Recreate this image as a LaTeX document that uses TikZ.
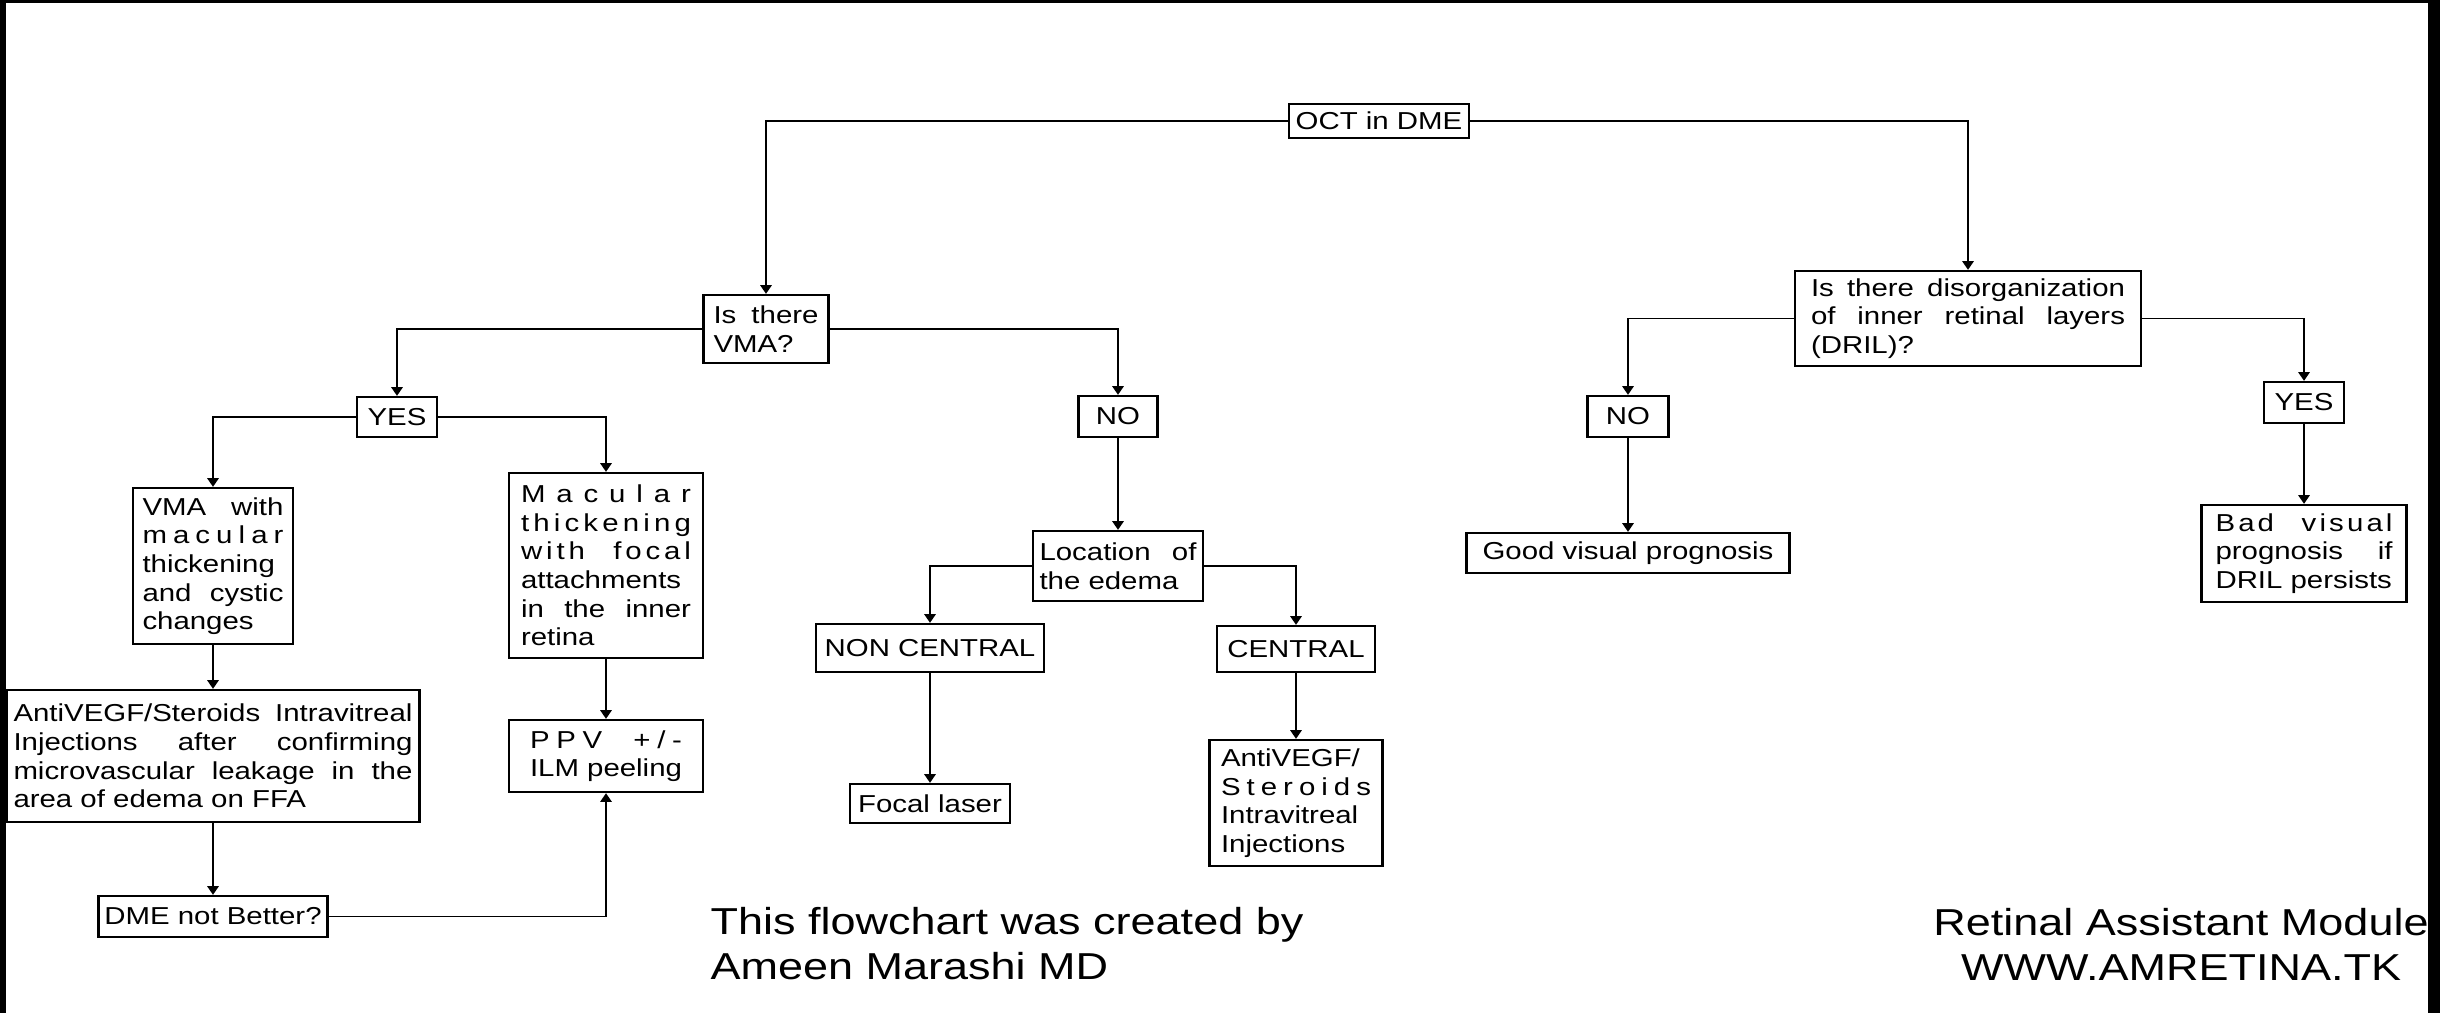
\documentclass[tikz,border=0pt]{standalone}
\usepackage{fontspec}
\setmainfont{Liberation Sans}[FakeStretch=1.2]
\usetikzlibrary{arrows.meta}

% a justified line, and a letter spaced one
\newcommand{\spreadline}[1]{\makebox[\hsize][s]{\spaceskip=0pt\relax #1}\\}
\newcommand{\spreadletters}[1]{\makebox[\hsize][s]{\spaceskip=0pt plus 1fil\relax #1}\\}

\begin{document}
\begin{tikzpicture}[x=0.3pt,y=-0.3pt,
	box/.style={draw,line width=0.7pt,inner sep=0pt,align=flush left,font=\fontsize{7.35}{8.6}\selectfont},
	link/.style={line width=0.55pt,-{Triangle[width=3.4pt,length=2.6pt]}},
	footer/.style={inner sep=0pt,font=\fontsize{11.25}{13.5}\selectfont}]
\useasboundingbox (0,0) rectangle (2440,1013);

%frame
\fill (0,0) rectangle (6,1013);
\fill (0,0) rectangle (2440,3);
\fill (2428,0) rectangle (2440,1013);

%boxes
\node[box,minimum width=54pt,minimum height=10.2pt] (oct) at (1379,121) {OCT in DME};
\node[box,minimum width=37.5pt,minimum height=20.4pt,text width=31.5pt] (vma) at (766,329) {\spreadline{Is there}VMA?};
\node[box,minimum width=103.8pt,minimum height=28.5pt,text width=94.2pt] (dril) at (1968,318.5)
	{\spreadline{Is there disorganization}\spreadline{of inner retinal layers}(DRIL)?};

\node[box,minimum width=24pt,minimum height=12pt] (yesL) at (397,417) {YES};
\node[box,minimum width=23.7pt,minimum height=12.3pt] (noM) at (1118,416.5) {NO};
\node[box,minimum width=24.3pt,minimum height=12.3pt] (noR) at (1628,416.5) {NO};
\node[box,minimum width=24pt,minimum height=12.3pt] (yesR) at (2304,402.5) {YES};

%left branch
\node[box,minimum width=48pt,minimum height=46.8pt,text width=42.3pt] (vmaw) at (213,566)
	{\spreadline{VMA with}\spreadletters{m a c u l a r}thickening\\\spreadline{and cystic}changes};
\node[box,minimum width=58.2pt,minimum height=55.5pt,text width=51pt] (mac) at (606,565.5)
	{\spreadletters{M a c u l a r}\spreadletters{t h i c k e n i n g}\spreadletters{w i t h \quad f o c a l}attachments\\\spreadline{in the inner}retina};
\node[box,minimum width=123.9pt,minimum height=39.6pt,text width=119.7pt] (anti1) at (213,756)
	{\spreadline{AntiVEGF/Steroids Intravitreal}\spreadline{Injections after confirming}\spreadline{microvascular leakage in the}area of edema on FFA};
\node[box,minimum width=58.2pt,minimum height=21.6pt,text width=45.6pt] (ppv) at (606,756)
	{\spreadletters{P P V \quad + / -}ILM peeling};
\node[box,minimum width=68.7pt,minimum height=12.3pt] (dmenb) at (213,916.5) {DME not Better?};

%middle branch
\node[box,minimum width=51pt,minimum height=21pt,text width=47.1pt] (loc) at (1118,566) {\spreadline{Location of}the edema};
\node[box,minimum width=68.4pt,minimum height=14.4pt] (noncen) at (930,648) {NON CENTRAL};
\node[box,minimum width=47.4pt,minimum height=13.8pt] (cen) at (1296,649) {CENTRAL};
\node[box,minimum width=48pt,minimum height=11.7pt] (focal) at (930,803.5) {Focal laser};
\node[box,minimum width=51.9pt,minimum height=37.8pt,text width=45pt] (anti2) at (1296,803)
	{AntiVEGF/\\\spreadletters{S t e r o i d s}Intravitreal\\Injections};

%right branch
\node[box,minimum width=96.9pt,minimum height=12pt] (good) at (1628,553) {Good visual prognosis};
\node[box,minimum width=61.5pt,minimum height=29.1pt,text width=53.1pt] (bad) at (2304,553.5)
	{\spreadletters{B a d \quad v i s u a l}\spreadline{prognosis if}DRIL persists};

%footers
\node[footer,anchor=north west,align=left] (credit) at (710,907) {This flowchart was created by\\Ameen Marashi MD};
\node[footer,anchor=north,align=center] (module) at (2181,908) {Retinal Assistant Module\\WWW.AMRETINA.TK};

%arrows
%branches
\foreach \a/\b in {oct.west/vma,oct.east/dril,vma.west/yesL,vma.east/noM,yesL.west/vmaw,yesL.east/mac,loc.west/noncen,loc.east/cen,dril.west/noR,dril.east/yesR}
	\draw[link] (\a) -| (\b.north);

%straight down
\foreach \a/\b in {vmaw/anti1,anti1/dmenb,mac/ppv,noM/loc,noncen/focal,cen/anti2,noR/good,yesR/bad}
	\draw[link] (\a.south) -- (\b.north);

%back to surgery
\draw[link] (dmenb.east) -| (ppv.south);
\end{tikzpicture}
\end{document}
